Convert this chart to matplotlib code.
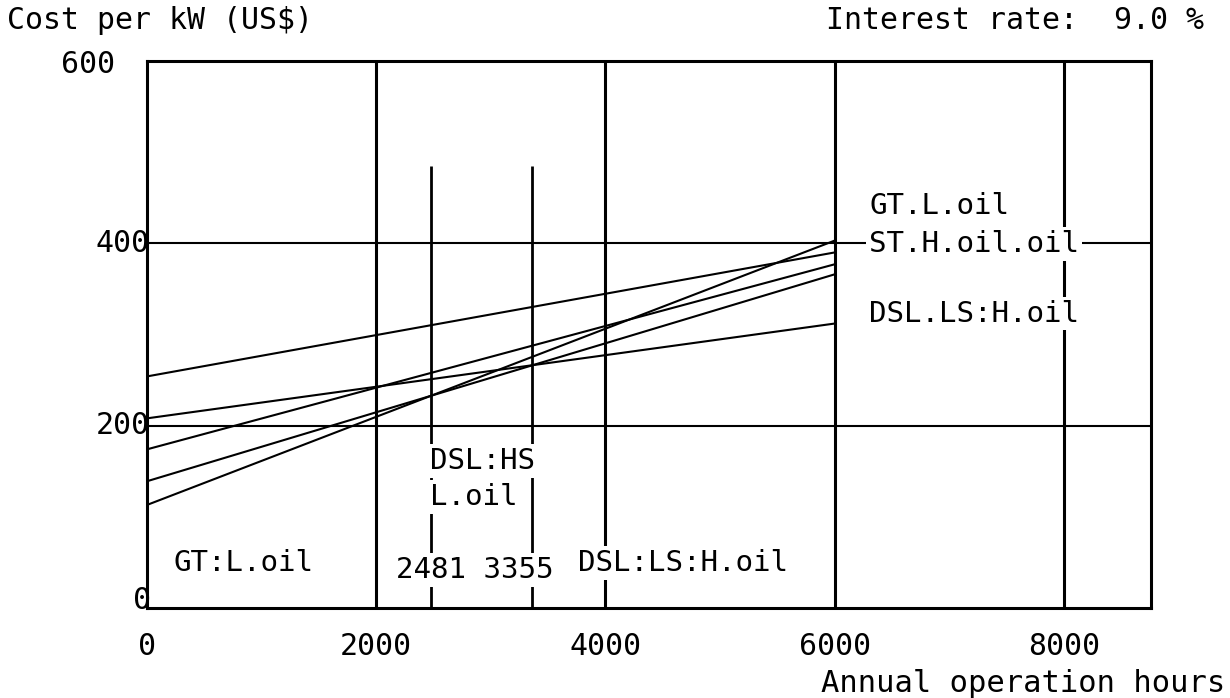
import matplotlib.pyplot as plt
from matplotlib import transforms

# annual cost per kW (US$) at 0 and 6000 operating hours
hours = [0, 6000]
gt_l_oil = [113, 403]
dsl_hs_l_oil = [139, 366]
st_h_oil = [174, 377]
dsl_ls_h_oil = [208, 312]
st_l_oil = [254, 390]

breakeven = [2481, 3355]
grid_hours = [2000, 4000, 6000, 8000]
grid_costs = [200, 400]
x_ticks = [0, 2000, 4000, 6000, 8000]
y_ticks = [0, 200, 400, 600]

FONT = "DejaVu Sans Mono"
plt.rcParams["font.family"] = FONT

fig = plt.figure(figsize=(12.3, 6.98), dpi=100)
ax = fig.add_axes([0.1195, 0.129, 0.8163, 0.7836])
ax.set_xlim(0, 8760)
ax.set_ylim(0, 600)

for s in ax.spines.values():
    s.set_linewidth(2.2)

# grid
ax.vlines(grid_hours, 0, 600, color="black", lw=2.2, zorder=1)
ax.hlines(grid_costs, 0, 8760, color="black", lw=1.5, zorder=1)
ax.vlines(breakeven, 0, 485, color="black", lw=2.0, zorder=1)

for series in [gt_l_oil, dsl_hs_l_oil, st_h_oil, dsl_ls_h_oil, st_l_oil]:
    ax.plot(hours, series, color="black", lw=1.5, zorder=2)

ax.set_xticks(x_ticks)
ax.set_xticklabels([str(v) for v in x_ticks], fontsize=21.5)
ax.tick_params(axis="x", length=0, pad=17)
ax.set_yticks([])

# y tick labels placed by hand like the plotter output
ytrans = transforms.blended_transform_factory(ax.transAxes, ax.transData)
y_label_x = [0.004, 0.003, 0.003, -0.032]
y_label_dy = [8, 0, 0, -4]
for v, lx, dy in zip(y_ticks, y_label_x, y_label_dy):
    ax.text(lx, v + dy, str(v), transform=ytrans, ha="right", va="center",
            fontsize=21.5)

box = dict(facecolor="white", edgecolor="none", pad=2)
label_kw = dict(fontsize=21, va="center", zorder=3, bbox=box)
ax.text(6300, 441, "GT.L.oil", **label_kw)
ax.text(6300, 399, "ST.H.oil.oil", **label_kw)
ax.text(6300, 323, "DSL.LS:H.oil", **label_kw)
ax.text(230, 49, "GT:L.oil", **label_kw)
ax.text(2470, 161, "DSL:HS", **label_kw)
ax.text(2470, 122, "L.oil", **label_kw)
ax.text(2170, 42, "2481 3355", **label_kw)
ax.text(3760, 49, "DSL:LS:H.oil", **label_kw)

fig.text(0.006, 0.97, "Cost per kW (US$)", fontsize=21.5, va="center")
fig.text(0.979, 0.97, "Interest rate:  9.0 %", fontsize=21.5, va="center",
         ha="right")
fig.text(0.996, 0.021, "Annual operation hours", fontsize=22, va="center",
         ha="right")

fig.savefig("out.png", dpi=100)
